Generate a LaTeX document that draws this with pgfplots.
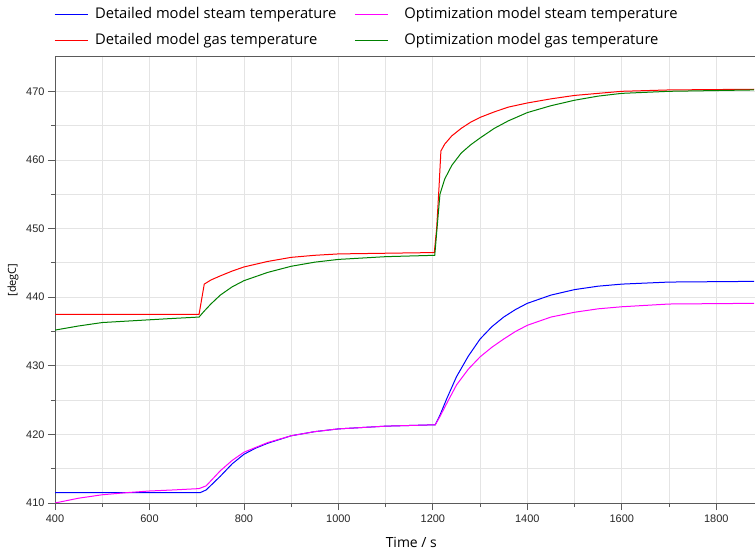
\documentclass[border=0pt]{standalone}
\usepackage{fontspec}
\setmainfont{Open Sans}
\newfontfamily\arial{Liberation Sans}
\usepackage{pgfplots}
\pgfplotsset{compat=1.18}
\definecolor{gridc}{RGB}{228,228,228}
\definecolor{axc}{RGB}{90,90,90}
\definecolor{ogreen}{RGB}{0,128,0}
\definecolor{pmag}{RGB}{255,0,255}
\pgfplotsset{wideimg/.style={legend image code/.code={\draw[##1, line width=1bp] (0bp,0bp) -- (33bp,0bp); \path (49bp,0bp);}}}
\begin{document}
\begin{tikzpicture}
\path[use as bounding box] (0,0) rectangle (755bp,550bp);
\begin{axis}[
  at={(55bp,47bp)}, anchor=south west,
  scale only axis, width=700bp, height=446bp,
  xmin=400, xmax=1882, ymin=410, ymax=475,
  axis x line*=box, axis y line*=left,
  xtick pos=bottom, ytick pos=left,
  axis line style={axc, line width=1bp, -},
  xtick={400,600,...,1800}, ytick={410,420,...,470},
  minor x tick num=1, minor y tick num=1,
  grid=both, grid style={gridc, line width=0.8bp},
  minor grid style={gridc, line width=0.8bp},
  tick align=outside, major tick length=7bp, minor tick length=4bp,
  tick style={axc, line width=0.8bp},
  tick label style={font=\arial\fontsize{11}{13}\selectfont, text=black!85},
  /pgf/number format/assume math mode=true,
  /pgf/number format/1000 sep={},
  xticklabel style={yshift=-1bp},
  xlabel={Time / s},
  every axis x label/.style={at={(axis description cs:0.509,-0.088)}, anchor=center, font=\fontsize{14}{16}\selectfont},
  ylabel={[degC]},
  every axis y label/.style={at={(axis description cs:-0.06,0.5)}, rotate=90, anchor=center, font=\fontsize{11}{13}\selectfont},
  legend columns=2,
  legend cell align=left,
  legend style={at={(-0.0014,1.109)}, anchor=north west, draw=none, fill=none,
    inner sep=0pt, outer sep=0pt, column sep=0pt,
    font=\fontsize{14.8}{16}\selectfont, row sep=13bp,
    nodes={inner xsep=0bp, inner ysep=0bp, text height=10bp, text depth=3bp}},
  legend image code/.code={\draw[#1, line width=1bp] (0bp,0bp) -- (33bp,0bp); \path (40bp,0bp);},
  every axis plot/.append style={line width=1bp},
]
\addplot[blue] coordinates {(400,411.5)(707,411.5)(720,411.9)(735,412.9)(750,413.9)(775,415.7)(800,417.1)(825,418.0)(850,418.7)(900,419.8)(950,420.4)(1000,420.8)(1100,421.2)(1205,421.4)(1215,422.8)(1230,425.3)(1250,428.4)(1275,431.4)(1300,433.9)(1325,435.7)(1350,437.1)(1375,438.2)(1400,439.1)(1450,440.3)(1500,441.1)(1550,441.6)(1600,441.9)(1700,442.2)(1880,442.3)};
\addlegendentry{Detailed model steam temperature\hspace*{18bp}}
\addplot[pmag, wideimg] coordinates {(400,410.0)(450,410.7)(500,411.2)(550,411.5)(600,411.75)(650,411.9)(705,412.1)(720,412.5)(735,413.6)(750,414.7)(775,416.2)(800,417.4)(825,418.1)(850,418.8)(900,419.8)(950,420.4)(1000,420.8)(1100,421.2)(1205,421.4)(1215,422.6)(1230,424.6)(1250,427.2)(1275,429.5)(1300,431.3)(1325,432.7)(1350,433.9)(1375,435.0)(1400,435.9)(1450,437.1)(1500,437.8)(1550,438.3)(1600,438.6)(1700,439.0)(1880,439.1)};
\addlegendentry{Optimization model steam temperature}
\addplot[red] coordinates {(400,437.5)(705,437.5)(710,439.5)(716,441.9)(730,442.5)(750,443.1)(775,443.8)(800,444.4)(850,445.2)(900,445.8)(950,446.1)(1000,446.3)(1100,446.4)(1203,446.5)(1208,450)(1213,456)(1217,461.3)(1225,462.3)(1240,463.5)(1260,464.6)(1280,465.5)(1300,466.2)(1330,467.0)(1360,467.7)(1400,468.3)(1450,468.9)(1500,469.4)(1550,469.7)(1600,470.0)(1700,470.2)(1880,470.3)};
\addlegendentry{Detailed model gas temperature\hspace*{18bp}}
\addplot[ogreen, wideimg] coordinates {(400,435.2)(450,435.8)(500,436.3)(550,436.5)(600,436.7)(650,436.9)(705,437.1)(715,437.9)(730,439.0)(750,440.3)(775,441.5)(800,442.4)(850,443.6)(900,444.5)(950,445.1)(1000,445.5)(1100,445.9)(1204,446.1)(1210,451)(1215,455.0)(1225,457.2)(1240,459.2)(1260,461.0)(1280,462.2)(1300,463.2)(1330,464.6)(1360,465.7)(1400,466.9)(1450,467.9)(1500,468.7)(1550,469.3)(1600,469.7)(1700,470.0)(1880,470.2)};
\addlegendentry{Optimization model gas temperature}
\end{axis}
\end{tikzpicture}
\end{document}
